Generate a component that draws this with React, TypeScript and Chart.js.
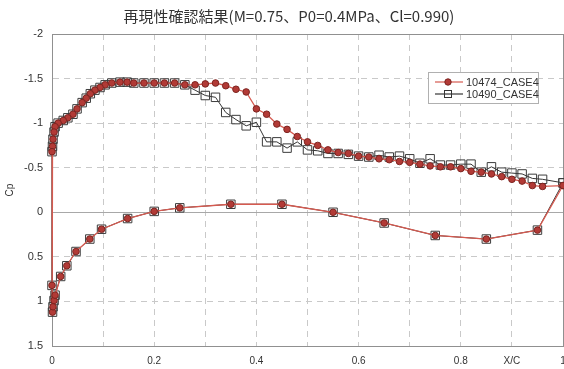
import React, { useEffect, useRef } from 'react';
import { Chart, registerables } from 'chart.js';

Chart.register(...registerables);

const chartTitle = '再現性確認結果(M=0.75、P0=0.4MPa、Cl=0.990)';
const seriesNames = ['10474_CASE4', '10490_CASE4'];
const yAxisTitle = 'Cp';
const xTickValues = [0, 0.1, 0.2, 0.3, 0.4, 0.5, 0.6, 0.7, 0.8, 0.9, 1];
const xTickLabels = ['0', '', '0.2', '', '0.4', '', '0.6', '', '0.8', 'X/C', '1'];
const yTickValues = [-2, -1.5, -1, -0.5, 0, 0.5, 1, 1.5];
const yTickLabels = ['-2', '-1.5', '-1', '-0.5', '0', '0.5', '1', '1.5'];

// upper surface, leading edge -> trailing edge
const upperX = [
  0, 0.001, 0.002, 0.004, 0.006, 0.012, 0.022, 0.031, 0.041, 0.049,
  0.059, 0.067, 0.075, 0.084, 0.094, 0.104, 0.117, 0.133, 0.147,
  0.16, 0.18, 0.2, 0.22, 0.24, 0.26, 0.28, 0.3, 0.32, 0.34,
  0.36, 0.38, 0.4, 0.42, 0.44, 0.46, 0.48, 0.5, 0.52, 0.54,
  0.56, 0.58, 0.6, 0.62, 0.64, 0.66, 0.68, 0.7, 0.72, 0.74,
  0.76, 0.78, 0.8, 0.82, 0.84, 0.86, 0.88, 0.9, 0.92, 0.94,
  0.96, 1.0,
];
const upperCp10474 = [
  -0.68, -0.74, -0.82, -0.9, -0.96, -1.0, -1.03, -1.06, -1.1, -1.16,
  -1.23, -1.28, -1.33, -1.37, -1.4, -1.43, -1.45, -1.46, -1.46,
  -1.45, -1.45, -1.45, -1.45, -1.45, -1.43, -1.43, -1.44, -1.45, -1.42,
  -1.38, -1.35, -1.16, -1.1, -0.99, -0.93, -0.85, -0.79, -0.75, -0.7,
  -0.67, -0.66, -0.63, -0.62, -0.6, -0.59, -0.57, -0.56, -0.54, -0.52,
  -0.51, -0.51, -0.49, -0.46, -0.45, -0.43, -0.4, -0.37, -0.35, -0.3,
  -0.29, -0.3,
];
const upperCp10490 = [
  -0.68, -0.74, -0.82, -0.9, -0.96, -1.0, -1.03, -1.06, -1.1, -1.16,
  -1.23, -1.28, -1.33, -1.37, -1.4, -1.43, -1.45, -1.46, -1.46,
  -1.45, -1.45, -1.45, -1.45, -1.45, -1.43, -1.37, -1.31, -1.29, -1.12,
  -1.04, -0.97, -1.01, -0.79, -0.79, -0.72, -0.79, -0.7, -0.69, -0.66,
  -0.66, -0.65, -0.63, -0.62, -0.64, -0.62, -0.63, -0.6, -0.55, -0.6,
  -0.53, -0.53, -0.54, -0.54, -0.45, -0.51, -0.45, -0.44, -0.43, -0.38,
  -0.37, -0.33,
];

// lower surface, leading edge -> trailing edge
const lowerX = [0, 0.001, 0.002, 0.004, 0.006, 0.017, 0.029, 0.047, 0.074, 0.097, 0.148, 0.2, 0.25, 0.35, 0.45, 0.55, 0.65, 0.75, 0.85, 0.95];
const lowerCp10474 = [0.82, 1.12, 1.06, 0.99, 0.93, 0.72, 0.6, 0.44, 0.3, 0.19, 0.07, -0.01, -0.05, -0.09, -0.09, 0.0, 0.12, 0.26, 0.3, 0.2];
const lowerCp10490 = [0.82, 1.12, 1.06, 0.99, 0.93, 0.72, 0.6, 0.44, 0.3, 0.19, 0.07, -0.01, -0.05, -0.09, -0.09, 0.0, 0.12, 0.26, 0.3, 0.2];

function buildLoop(ux: number[], ucp: number[], lx: number[], lcp: number[]) {
  const pts: { x: number; y: number }[] = [];
  for (let i = ux.length - 1; i >= 0; i--) pts.push({ x: ux[i], y: ucp[i] });
  for (let i = 0; i < lx.length; i++) pts.push({ x: lx[i], y: lcp[i] });
  pts.push({ x: ux[ux.length - 1], y: ucp[ucp.length - 1] });
  return pts;
}

const RED_LINE = '#d65a50';
const RED_FILL = '#b23a36';
const RED_EDGE = '#7c2420';
const BLK_LINE = '#353535';

const near = (a: number, b: number) => Math.abs(a - b) < 1e-6;
const labelFor = (values: number[], labels: string[], v: number) => {
  const i = values.findIndex((t) => near(t, v));
  return i >= 0 ? labels[i] : '';
};

const titlePlugin = {
  id: 'cTitle',
  afterDraw(chart: any) {
    const { ctx } = chart;
    ctx.save();
    ctx.font = '15px "Noto Sans CJK JP", sans-serif';
    ctx.fillStyle = '#333';
    ctx.textAlign = 'center';
    ctx.textBaseline = 'middle';
    ctx.fillText(chartTitle, 289, 16);
    ctx.restore();
  },
};

const legendPlugin = {
  id: 'boxLegend',
  afterDraw(chart: any) {
    const { ctx, chartArea } = chart;
    const x0 = chartArea.right - 135;
    const y0 = chartArea.top + 38;
    const w = 110;
    const h = 31;
    ctx.save();
    ctx.fillStyle = '#ffffff';
    ctx.fillRect(x0, y0, w, h);
    ctx.strokeStyle = '#b0b0b0';
    ctx.lineWidth = 1;
    ctx.strokeRect(x0 + 0.5, y0 + 0.5, w, h);
    ctx.font = '11px "Liberation Sans", Arial, sans-serif';
    ctx.textBaseline = 'middle';
    ctx.textAlign = 'left';
    seriesNames.forEach((name, i) => {
      const cy = y0 + 10 + i * 12;
      const lx0 = x0 + 7;
      const lx1 = x0 + 35;
      const mx = x0 + 20;
      ctx.beginPath();
      ctx.moveTo(lx0, cy);
      ctx.lineTo(lx1, cy);
      ctx.strokeStyle = i === 0 ? RED_LINE : BLK_LINE;
      ctx.lineWidth = 1.2;
      ctx.stroke();
      ctx.lineWidth = 1;
      if (i === 0) {
        ctx.beginPath();
        ctx.arc(mx, cy, 3.2, 0, Math.PI * 2);
        ctx.fillStyle = RED_FILL;
        ctx.fill();
        ctx.strokeStyle = RED_EDGE;
        ctx.stroke();
      } else {
        ctx.strokeStyle = BLK_LINE;
        ctx.strokeRect(mx - 3.5, cy - 3.5, 7, 7);
      }
      ctx.fillStyle = '#333';
      ctx.fillText(name, x0 + 38, cy + 0.5);
    });
    ctx.restore();
  },
};

export default function App() {
  const ref = useRef<HTMLCanvasElement>(null);

  useEffect(() => {
    if (!ref.current) return;
    const chart = new Chart(ref.current, {
      type: 'scatter',
      data: {
        datasets: [
          {
            label: seriesNames[0],
            data: buildLoop(upperX, upperCp10474, lowerX, lowerCp10474),
            showLine: true,
            borderColor: RED_LINE,
            borderWidth: 1.3,
            pointStyle: 'circle',
            pointRadius: 3.3,
            pointBackgroundColor: RED_FILL,
            pointBorderColor: RED_EDGE,
            pointBorderWidth: 1,
            clip: 8,
          },
          {
            label: seriesNames[1],
            data: buildLoop(upperX, upperCp10490, lowerX, lowerCp10490),
            showLine: true,
            borderColor: BLK_LINE,
            borderWidth: 1,
            pointStyle: 'rect',
            pointRadius: 6,
            pointBackgroundColor: 'rgba(0,0,0,0)',
            pointBorderColor: '#3c3c3c',
            pointBorderWidth: 1,
            clip: 8,
          },
        ],
      },
      options: {
        animation: false,
        responsive: false,
        layout: { padding: { top: 34, right: 37, bottom: 0, left: 0 } },
        plugins: {
          legend: { display: false },
          title: { display: false },
          tooltip: { enabled: false },
        },
        scales: {
          x: {
            type: 'linear',
            min: 0,
            max: 1,
            afterFit: (s: any) => {
              s.height = 23;
            },
            ticks: {
              stepSize: 0.1,
              autoSkip: false,
              maxRotation: 0,
              padding: 9,
              color: '#333',
              font: { family: '"Liberation Sans", Arial, sans-serif', size: 10 },
              callback: (v: any) => labelFor(xTickValues, xTickLabels, Number(v)),
            },
            grid: {
              drawTicks: false,
              color: (c: any) => (c.tick && (near(c.tick.value, 0) || near(c.tick.value, 1)) ? '#909090' : '#c9c9c9'),
              lineWidth: 1,
            },
            border: {
              display: true,
              color: '#909090',
              dash: (c: any) => (c.tick && (near(c.tick.value, 0) || near(c.tick.value, 1)) ? [] : [6, 5]),
            },
          },
          y: {
            type: 'linear',
            min: -2,
            max: 1.5,
            reverse: true,
            afterFit: (s: any) => {
              s.width = 52;
            },
            title: {
              display: true,
              text: yAxisTitle,
              color: '#333',
              font: { family: '"Liberation Sans", Arial, sans-serif', size: 10 },
              padding: { top: 4, bottom: 0 },
            },
            ticks: {
              stepSize: 0.5,
              autoSkip: false,
              padding: 9,
              color: '#333',
              font: { family: '"Liberation Sans", Arial, sans-serif', size: 11 },
              callback: (v: any) => labelFor(yTickValues, yTickLabels, Number(v)),
            },
            grid: {
              drawTicks: false,
              color: (c: any) => {
                if (!c.tick) return '#c9c9c9';
                const v = c.tick.value;
                if (near(v, -2) || near(v, 1.5)) return '#909090';
                if (near(v, 0)) return '#a8a8a8';
                return '#c9c9c9';
              },
              lineWidth: 1,
            },
            border: {
              display: true,
              color: '#909090',
              dash: (c: any) => {
                if (!c.tick) return [];
                const v = c.tick.value;
                return near(v, -2) || near(v, 1.5) || near(v, 0) ? [] : [6, 5];
              },
            },
          },
        },
      },
      plugins: [titlePlugin, legendPlugin],
    });
    return () => chart.destroy();
  }, []);

  return (
    <div style={{ position: 'fixed', left: 0, top: 0, width: 564, height: 369, overflow: 'hidden', background: '#fff' }}>
      <canvas ref={ref} width={600} height={369} style={{ display: 'block' }} />
    </div>
  );
}
